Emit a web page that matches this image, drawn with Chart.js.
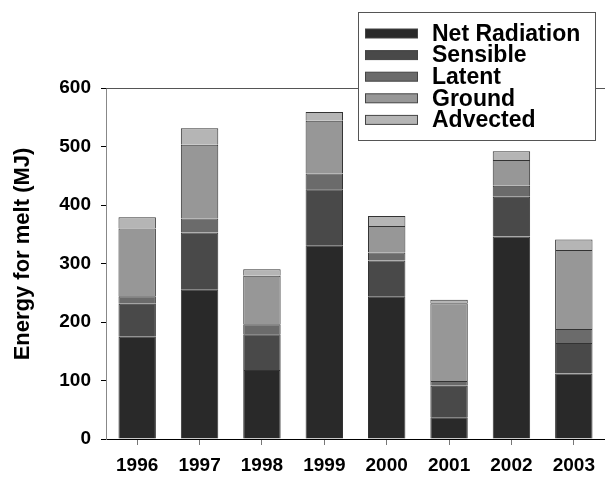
<!DOCTYPE html>
<html>
<head>
<meta charset="utf-8">
<script src="https://cdn.jsdelivr.net/npm/chart.js@4/dist/chart.umd.min.js"></script>
<style>
  body { margin: 0; background: #fff; }
  canvas { display: block; }
</style>
</head>
<body>
<canvas id="meltChart" width="605" height="478"></canvas>
<script>
// data (MJ)
const years = ['1996', '1997', '1998', '1999', '2000', '2001', '2002', '2003'];
const netRadiation = [175, 256, 118, 331, 244, 37, 346, 112];
const sensible     = [56, 97, 61, 96, 61, 54, 68, 52];
const latent       = [13, 24, 17, 27, 14, 8, 19, 24];
const ground       = [116, 126, 83, 90, 45, 133, 44, 135];
const advected     = [19, 28, 11, 15, 17, 6, 15, 18];
const yTicks = [0, 100, 200, 300, 400, 500, 600];
const yTitle = 'Energy for melt (MJ)';

const seriesNames  = ['Net Radiation', 'Sensible', 'Latent', 'Ground', 'Advected'];
const seriesValues = [netRadiation, sensible, latent, ground, advected];
const seriesColors = ['#292929', '#494949', '#6b6b6b', '#979797', '#b5b5b5'];

const FONT = "'Liberation Sans', Arial, sans-serif";

// boxed legend in the upper right, top frame line and the y title
const boxLegend = {
    id: 'boxLegend',
    afterDraw(chart) {
        const ctx = chart.ctx;
        const area = chart.chartArea;
        ctx.save();

        // top frame
        ctx.strokeStyle = '#555';
        ctx.lineWidth = 1;
        ctx.beginPath();
        ctx.moveTo(area.left, area.top + 0.5);
        ctx.lineTo(chart.width, area.top + 0.5);
        ctx.stroke();

        // y axis title, sits a bit above the middle of the axis
        ctx.save();
        ctx.translate(23, 254);
        ctx.rotate(-Math.PI / 2);
        ctx.font = "bold 22px " + FONT;
        ctx.fillStyle = '#000';
        ctx.textAlign = 'center';
        ctx.textBaseline = 'middle';
        ctx.fillText(yTitle, 0, 0);
        ctx.restore();

        // legend box
        const bx = 358.5, by = 12.5, bw = 237, bh = 128;
        ctx.fillStyle = '#fff';
        ctx.fillRect(bx, by, bw, bh);
        ctx.strokeStyle = '#555';
        ctx.strokeRect(bx, by, bw, bh);

        ctx.font = "bold 23px " + FONT;
        ctx.textBaseline = 'middle';
        chart.data.datasets.forEach((ds, i) => {
            const cy = 33.5 + i * 21.6;
            ctx.fillStyle = ds.backgroundColor;
            ctx.fillRect(365, cy - 4.5, 53, 9);
            ctx.strokeStyle = '#444';
            ctx.strokeRect(365.5, cy - 4.5, 52, 9);
            ctx.fillStyle = '#000';
            ctx.fillText(ds.label, 432, cy + 1);
        });
        ctx.restore();
    }
};

new Chart(document.getElementById('meltChart'), {
    type: 'bar',
    data: {
        labels: years,
        datasets: seriesNames.map((name, i) => ({
            label: name,
            data: seriesValues[i],
            backgroundColor: seriesColors[i],
            borderColor: '#333',
            borderWidth: 1,
            barPercentage: 0.6,
            categoryPercentage: 1.0
        }))
    },
    options: {
        responsive: false,
        animation: false,
        layout: { padding: { top: 88, right: 0, left: 0, bottom: 0 } },
        plugins: {
            legend: { display: false },
            tooltip: { enabled: false }
        },
        scales: {
            x: {
                stacked: true,
                offset: true,
                afterFit: s => { s.height = 39; },
                grid: { offset: false, drawOnChartArea: false, tickLength: 6, color: '#777' },
                border: { color: '#000', width: 1 },
                ticks: {
                    color: '#000',
                    padding: 9,
                    font: { family: FONT, size: 19, weight: 'bold' }
                }
            },
            y: {
                stacked: true,
                min: 0,
                max: 600,
                afterFit: s => { s.width = 106; },
                afterBuildTicks: s => { s.ticks = yTicks.map(v => ({ value: v })); },
                grid: { drawOnChartArea: false, tickLength: 5, color: '#000' },
                border: { color: '#888', width: 1 },
                ticks: {
                    color: '#000',
                    padding: 10,
                    font: { family: FONT, size: 19, weight: 'bold' }
                }
            }
        }
    },
    plugins: [boxLegend]
});
</script>
</body>
</html>
